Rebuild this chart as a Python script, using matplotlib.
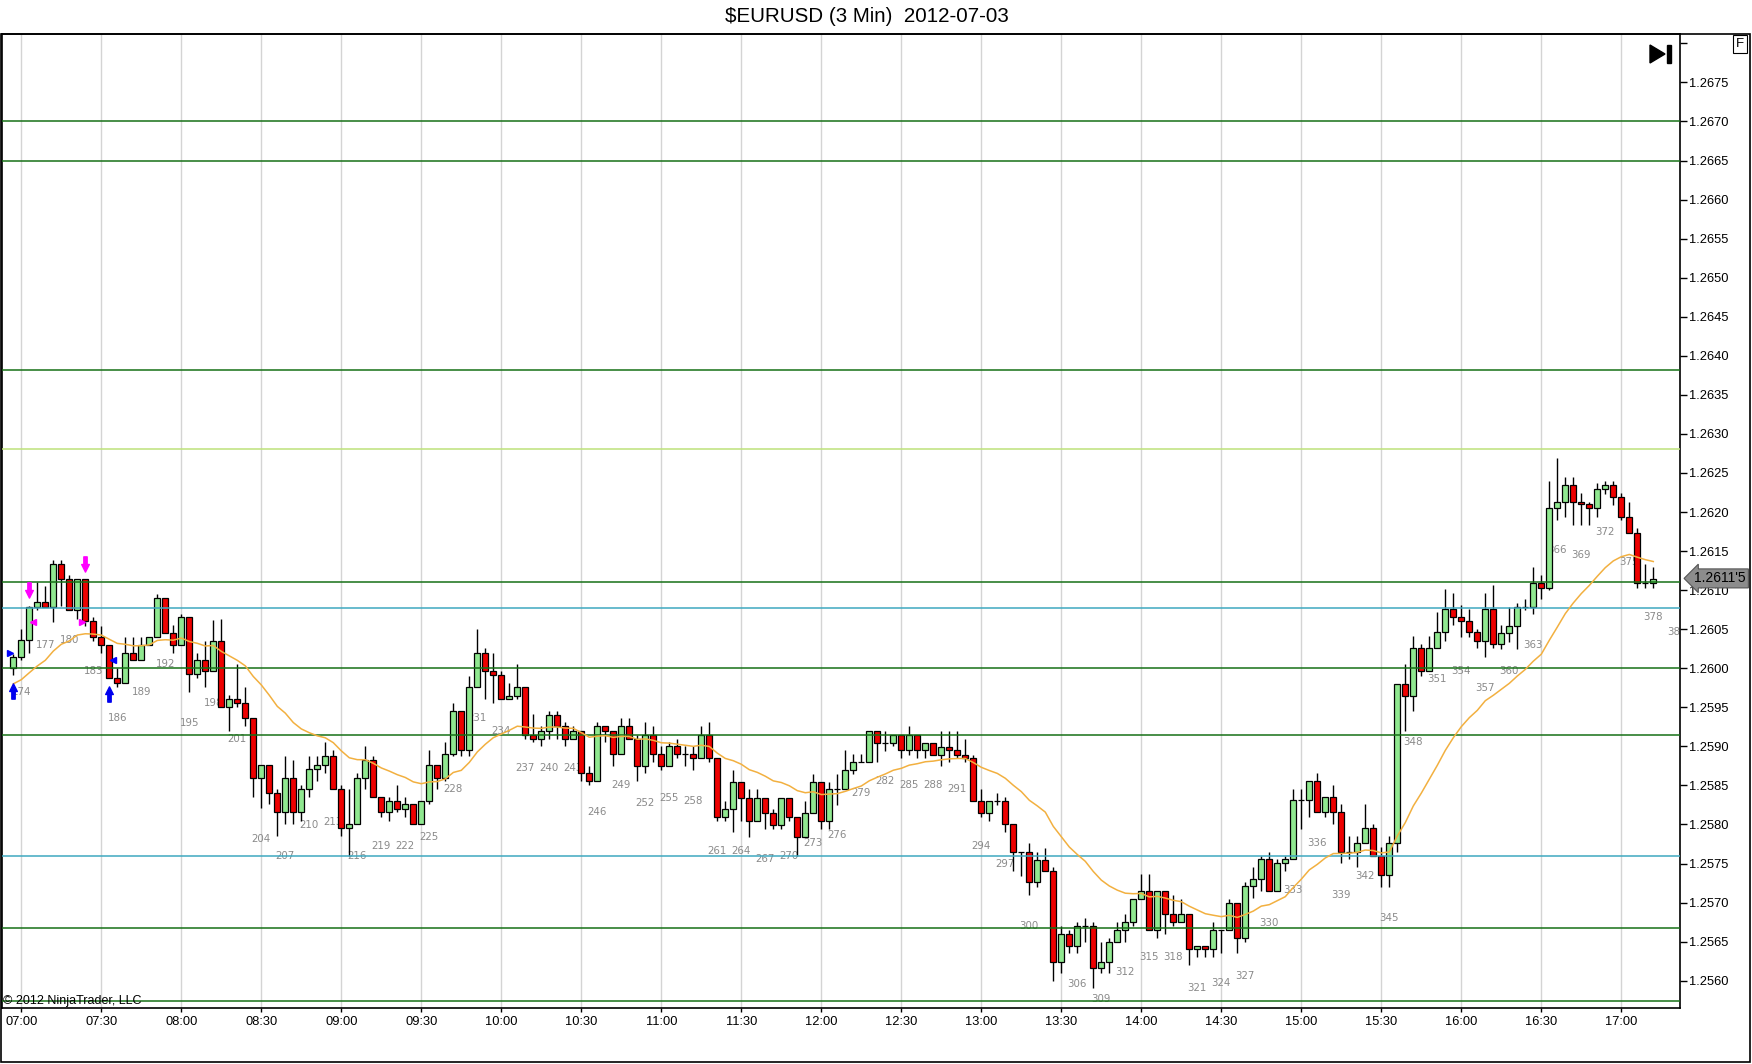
import numpy as np
import matplotlib
matplotlib.use("Agg")
import matplotlib.pyplot as plt
import matplotlib.transforms as mtransforms
from matplotlib.patches import Rectangle, Polygon
from matplotlib.path import Path

# --- DATA (3 min bars, first bar number 174 = 06:57) ---
FIRST_BAR = 174

opens = [
    1.26000, 1.26015, 1.26036, 1.26079, 1.26085, 1.26079, 1.26134, 1.26114, 1.26075, 1.26114,
    1.26060, 1.26040, 1.26030, 1.25987, 1.25981, 1.26020, 1.26010, 1.26030, 1.26040, 1.26090,
    1.26045, 1.26030, 1.26065, 1.25992, 1.26010, 1.25996, 1.26035, 1.25950, 1.25961, 1.25956,
    1.25936, 1.25860, 1.25876, 1.25840, 1.25816, 1.25860, 1.25816, 1.25845, 1.25871, 1.25876,
    1.25887, 1.25845, 1.25795, 1.25801, 1.25860, 1.25882, 1.25835, 1.25816, 1.25830, 1.25820,
    1.25826, 1.25801, 1.25830, 1.25876, 1.25860, 1.25890, 1.25945, 1.25895, 1.25976, 1.26020,
    1.25996, 1.25991, 1.25961, 1.25965, 1.25976, 1.25915, 1.25910, 1.25920, 1.25940, 1.25926,
    1.25910, 1.25920, 1.25866, 1.25855, 1.25926, 1.25920, 1.25890, 1.25926, 1.25910, 1.25875,
    1.25915, 1.25890, 1.25875, 1.25900, 1.25890, 1.25890, 1.25885, 1.25915, 1.25885, 1.25810,
    1.25820, 1.25854, 1.25834, 1.25804, 1.25834, 1.25815, 1.25799, 1.25834, 1.25810, 1.25784,
    1.25815, 1.25854, 1.25804, 1.25845, 1.25845, 1.25870, 1.25880, 1.25880, 1.25919, 1.25904,
    1.25904, 1.25915, 1.25895, 1.25915, 1.25895, 1.25904, 1.25889, 1.25899, 1.25895, 1.25889,
    1.25885, 1.25830, 1.25815, 1.25830, 1.25830, 1.25800, 1.25765, 1.25765, 1.25726, 1.25755,
    1.25740, 1.25624, 1.25660, 1.25645, 1.25670, 1.25670, 1.25616, 1.25624, 1.25650, 1.25665,
    1.25675, 1.25705, 1.25715, 1.25665, 1.25715, 1.25685, 1.25675, 1.25685, 1.25640, 1.25645,
    1.25640, 1.25665, 1.25665, 1.25700, 1.25655, 1.25721, 1.25730, 1.25756, 1.25715, 1.25751,
    1.25756, 1.25831, 1.25831, 1.25855, 1.25816, 1.25835, 1.25816, 1.25765, 1.25765, 1.25776,
    1.25795, 1.25760, 1.25735, 1.25776, 1.25980, 1.25965, 1.26026, 1.25996, 1.26026, 1.26046,
    1.26076, 1.26065, 1.26060, 1.26046, 1.26035, 1.26076, 1.26031, 1.26045, 1.26054, 1.26079,
    1.26079, 1.26109, 1.26103, 1.26205, 1.26213, 1.26234, 1.26213, 1.26210, 1.26205, 1.26229,
    1.26234, 1.26219, 1.26194, 1.26173, 1.26109, 1.26109,
]

highs = [
    1.26018, 1.26050, 1.26080, 1.26110, 1.26105, 1.26139, 1.26139, 1.26119, 1.26114, 1.26114,
    1.26065, 1.26054, 1.26030, 1.26000, 1.26040, 1.26040, 1.26040, 1.26040, 1.26095, 1.26090,
    1.26055, 1.26070, 1.26065, 1.26020, 1.26035, 1.26062, 1.26063, 1.25966, 1.26006, 1.25976,
    1.25936, 1.25876, 1.25876, 1.25846, 1.25887, 1.25882, 1.25850, 1.25888, 1.25888, 1.25905,
    1.25895, 1.25850, 1.25845, 1.25866, 1.25901, 1.25887, 1.25835, 1.25835, 1.25850, 1.25835,
    1.25826, 1.25830, 1.25895, 1.25876, 1.25905, 1.25956, 1.25945, 1.25990, 1.26050, 1.26026,
    1.26020, 1.25996, 1.25981, 1.26006, 1.25976, 1.25941, 1.25926, 1.25945, 1.25945, 1.25931,
    1.25926, 1.25920, 1.25875, 1.25931, 1.25926, 1.25920, 1.25936, 1.25936, 1.25915, 1.25931,
    1.25926, 1.25900, 1.25905, 1.25910, 1.25900, 1.25900, 1.25926, 1.25931, 1.25885, 1.25830,
    1.25870, 1.25854, 1.25845, 1.25845, 1.25834, 1.25820, 1.25834, 1.25834, 1.25810, 1.25830,
    1.25865, 1.25854, 1.25854, 1.25865, 1.25895, 1.25890, 1.25890, 1.25919, 1.25919, 1.25919,
    1.25915, 1.25915, 1.25926, 1.25915, 1.25904, 1.25904, 1.25919, 1.25919, 1.25919, 1.25909,
    1.25889, 1.25845, 1.25830, 1.25840, 1.25835, 1.25800, 1.25765, 1.25776, 1.25765, 1.25770,
    1.25745, 1.25670, 1.25665, 1.25675, 1.25680, 1.25675, 1.25650, 1.25655, 1.25675, 1.25685,
    1.25705, 1.25736, 1.25736, 1.25715, 1.25715, 1.25710, 1.25705, 1.25685, 1.25645, 1.25645,
    1.25675, 1.25665, 1.25705, 1.25700, 1.25726, 1.25745, 1.25760, 1.25765, 1.25756, 1.25760,
    1.25845, 1.25845, 1.25855, 1.25866, 1.25835, 1.25850, 1.25826, 1.25785, 1.25785, 1.25826,
    1.25800, 1.25771, 1.25785, 1.25980, 1.26005, 1.26041, 1.26031, 1.26041, 1.26072, 1.26102,
    1.26096, 1.26081, 1.26076, 1.26050, 1.26096, 1.26106, 1.26055, 1.26079, 1.26084, 1.26089,
    1.26130, 1.26119, 1.26240, 1.26269, 1.26245, 1.26245, 1.26224, 1.26213, 1.26237, 1.26240,
    1.26240, 1.26224, 1.26213, 1.26179, 1.26134, 1.26130,
]

lows = [
    1.25991, 1.26010, 1.26020, 1.26075, 1.26078, 1.26059, 1.26080, 1.26075, 1.26063, 1.26054,
    1.26035, 1.26020, 1.25987, 1.25976, 1.25981, 1.26010, 1.26010, 1.26030, 1.26040, 1.26045,
    1.26020, 1.26030, 1.25970, 1.25987, 1.25976, 1.25996, 1.25950, 1.25920, 1.25950, 1.25926,
    1.25835, 1.25821, 1.25826, 1.25785, 1.25801, 1.25801, 1.25805, 1.25835, 1.25855, 1.25866,
    1.25845, 1.25785, 1.25759, 1.25801, 1.25845, 1.25835, 1.25810, 1.25805, 1.25816, 1.25810,
    1.25801, 1.25801, 1.25826, 1.25845, 1.25855, 1.25887, 1.25887, 1.25888, 1.25976, 1.25960,
    1.25955, 1.25961, 1.25961, 1.25961, 1.25910, 1.25905, 1.25900, 1.25910, 1.25910, 1.25900,
    1.25910, 1.25855, 1.25850, 1.25855, 1.25905, 1.25875, 1.25890, 1.25910, 1.25855, 1.25866,
    1.25880, 1.25870, 1.25875, 1.25885, 1.25875, 1.25870, 1.25885, 1.25880, 1.25805, 1.25804,
    1.25790, 1.25804, 1.25784, 1.25804, 1.25794, 1.25794, 1.25794, 1.25804, 1.25759, 1.25784,
    1.25815, 1.25794, 1.25794, 1.25825, 1.25845, 1.25865, 1.25880, 1.25880, 1.25880, 1.25894,
    1.25900, 1.25885, 1.25889, 1.25885, 1.25885, 1.25889, 1.25875, 1.25880, 1.25885, 1.25880,
    1.25830, 1.25810, 1.25805, 1.25825, 1.25790, 1.25740, 1.25734, 1.25710, 1.25720, 1.25740,
    1.25600, 1.25610, 1.25636, 1.25636, 1.25650, 1.25590, 1.25610, 1.25610, 1.25650, 1.25650,
    1.25670, 1.25705, 1.25665, 1.25655, 1.25660, 1.25670, 1.25675, 1.25620, 1.25630, 1.25630,
    1.25630, 1.25635, 1.25665, 1.25635, 1.25650, 1.25706, 1.25715, 1.25715, 1.25715, 1.25740,
    1.25756, 1.25794, 1.25810, 1.25816, 1.25810, 1.25800, 1.25751, 1.25756, 1.25745, 1.25776,
    1.25760, 1.25720, 1.25720, 1.25765, 1.25920, 1.25945, 1.25990, 1.25996, 1.26026, 1.26035,
    1.26055, 1.26040, 1.26040, 1.26026, 1.26015, 1.26026, 1.26024, 1.26034, 1.26024, 1.26074,
    1.26069, 1.26089, 1.26100, 1.26190, 1.26194, 1.26184, 1.26184, 1.26184, 1.26194, 1.26223,
    1.26209, 1.26190, 1.26173, 1.26103, 1.26103, 1.26103,
]

closes = [
    1.26015, 1.26036, 1.26079, 1.26085, 1.26079, 1.26134, 1.26114, 1.26075, 1.26114, 1.26060,
    1.26040, 1.26030, 1.25987, 1.25981, 1.26020, 1.26010, 1.26030, 1.26040, 1.26090, 1.26045,
    1.26030, 1.26065, 1.25992, 1.26010, 1.25996, 1.26035, 1.25950, 1.25961, 1.25956, 1.25936,
    1.25860, 1.25876, 1.25840, 1.25816, 1.25860, 1.25816, 1.25845, 1.25871, 1.25876, 1.25887,
    1.25845, 1.25795, 1.25801, 1.25860, 1.25882, 1.25835, 1.25816, 1.25830, 1.25820, 1.25826,
    1.25801, 1.25830, 1.25876, 1.25860, 1.25890, 1.25945, 1.25895, 1.25976, 1.26020, 1.25996,
    1.25991, 1.25961, 1.25965, 1.25976, 1.25915, 1.25910, 1.25920, 1.25940, 1.25926, 1.25910,
    1.25920, 1.25866, 1.25855, 1.25926, 1.25920, 1.25890, 1.25926, 1.25910, 1.25875, 1.25915,
    1.25890, 1.25875, 1.25900, 1.25890, 1.25890, 1.25885, 1.25915, 1.25885, 1.25810, 1.25820,
    1.25854, 1.25834, 1.25804, 1.25834, 1.25815, 1.25799, 1.25834, 1.25810, 1.25784, 1.25815,
    1.25854, 1.25804, 1.25845, 1.25845, 1.25870, 1.25880, 1.25880, 1.25919, 1.25904, 1.25904,
    1.25915, 1.25895, 1.25915, 1.25895, 1.25904, 1.25889, 1.25899, 1.25895, 1.25889, 1.25885,
    1.25830, 1.25815, 1.25830, 1.25830, 1.25800, 1.25765, 1.25765, 1.25726, 1.25755, 1.25740,
    1.25624, 1.25660, 1.25645, 1.25670, 1.25670, 1.25616, 1.25624, 1.25650, 1.25665, 1.25675,
    1.25705, 1.25715, 1.25665, 1.25715, 1.25685, 1.25675, 1.25685, 1.25640, 1.25645, 1.25640,
    1.25665, 1.25665, 1.25700, 1.25655, 1.25721, 1.25730, 1.25756, 1.25715, 1.25751, 1.25756,
    1.25831, 1.25831, 1.25855, 1.25816, 1.25835, 1.25816, 1.25765, 1.25765, 1.25776, 1.25795,
    1.25760, 1.25735, 1.25776, 1.25980, 1.25965, 1.26026, 1.25996, 1.26026, 1.26046, 1.26076,
    1.26065, 1.26060, 1.26046, 1.26035, 1.26076, 1.26031, 1.26045, 1.26054, 1.26079, 1.26079,
    1.26109, 1.26103, 1.26205, 1.26213, 1.26234, 1.26213, 1.26210, 1.26205, 1.26229, 1.26234,
    1.26219, 1.26194, 1.26173, 1.26109, 1.26109, 1.26114,
]

# moving average indicator (EMA 20), value carried in from before the first bar
EMA_PERIOD = 20
EMA_SEED = 1.2598

# bar number labels: every 3rd bar, price where the number is printed (None = not shown)
label_step = 3
label_prices = [
    1.25970, 1.26030, 1.26036, 1.25996, 1.25936, 1.25970, 1.26005, 1.25930, 1.25956, 1.25910,
    1.25782, 1.25760, 1.25799, 1.25803, 1.25760, 1.25772, 1.25772, 1.25784, 1.25846, 1.25936,
    1.25920, 1.25872, 1.25872, 1.25872, 1.25816, 1.25850, 1.25827, 1.25834, 1.25830, 1.25766,
    1.25766, 1.25756, 1.25760, 1.25776, 1.25787, 1.25840, 1.25856, 1.25850, 1.25850, 1.25846,
    1.25772, 1.25750, 1.25670, None, 1.25596, 1.25577, 1.25611, 1.25630, 1.25630, 1.25590,
    1.25597, 1.25606, 1.25674, 1.25716, 1.25776, 1.25710, 1.25734, 1.25680, 1.25906, 1.25986,
    1.25996, 1.25975, 1.25996, 1.26030, 1.26151, 1.26145, 1.26175, 1.26136, 1.26065, 1.26046,
]

# drawn horizontal levels
dark_green_levels = [1.2670, 1.2665, 1.26382, 1.2611, 1.2600, 1.25915, 1.25668, 1.25574]
teal_levels = [1.26077, 1.25759]
yellow_green_levels = [1.26281]

# signal arrows and executions
down_arrow_bars = [176, 183]
up_arrow_bars = [174, 186]
exec_bars = [174, 176, 183, 186]
exec_prices = [1.26020, 1.26059, 1.26059, 1.26010]
exec_colors = ["#0000ff", "#ff00ff", "#ff00ff", "#0000ff"]
exec_markers = [">", "<", ">", "<"]

time_labels = ["07:00", "07:30", "08:00", "08:30", "09:00", "09:30", "10:00",
               "10:30", "11:00", "11:30", "12:00", "12:30", "13:00", "13:30",
               "14:00", "14:30", "15:00", "15:30", "16:00", "16:30", "17:00"]
FIRST_TIME_BAR = 175
BARS_PER_LABEL = 10

LAST_PRICE = 1.26115
LAST_PRICE_TEXT = "1.2611'5"

# --- STYLE ---
UP_COLOR = "#90e890"
DOWN_COLOR = "#ee0000"
EMA_COLOR = "#f2b040"
DARK_GREEN = "#167016"
TEAL = "#3ea8c0"
YELLOW_GREEN = "#bde27a"
GRID_COLOR = "#d4d4d4"

W, H = 1752, 1064
plt.rcParams["font.family"] = ["Liberation Sans", "DejaVu Sans"]

fig = plt.figure(figsize=(W / 100, H / 100), dpi=100)
fig.patch.set_facecolor("white")
ax = fig.add_axes([1.5 / W, 1 - 1008 / H, (1680 - 1.5) / W, (1008 - 34) / H])

o = np.array(opens)
c = np.array(closes)
hi = np.maximum(np.array(highs), np.maximum(o, c))
lo = np.minimum(np.array(lows), np.minimum(o, c))
bars = np.arange(FIRST_BAR, FIRST_BAR + len(c))

# 8 px per bar, first bar 11.8 px from left border
ax.set_xlim(FIRST_BAR - 11.8 / 8.0, FIRST_BAR + (1680 - 13.3) / 8.0)
ax.set_ylim(1.25565, 1.26812)

# time axis + vertical grid
tick_pos = FIRST_TIME_BAR + BARS_PER_LABEL * np.arange(len(time_labels))
ax.set_xticks(tick_pos)
ax.set_xticklabels(time_labels)
ax.grid(axis="x", color=GRID_COLOR, lw=1, zorder=0)
ax.set_axisbelow(True)

# price axis on the right
yt = np.round(np.arange(1.2560, 1.26801, 0.0005), 4)
ax.yaxis.tick_right()
ax.set_yticks(yt)
ax.set_yticklabels(["%.4f" % v if v < 1.26775 else "" for v in yt])
ax.tick_params(axis="y", direction="out", length=5, width=1, pad=1.5, labelsize=9.3)
ax.tick_params(axis="x", direction="out", length=3, width=1, pad=3, labelsize=9.3)
for s in ax.spines.values():
    s.set_linewidth(1.2)

# bar numbers (behind the candles)
label_bars = FIRST_BAR + label_step * np.arange(len(label_prices))
for b, p in zip(label_bars, label_prices):
    if p is None:
        continue
    ax.text(b - 0.2, p, str(b), fontsize=7.4, color="#8a8a8a", ha="left",
            va="center", family="DejaVu Sans", zorder=1, clip_on=True)

# candles
up = c >= o
ax.vlines(bars, lo, hi, color="black", lw=1, zorder=2)
body_bottom = np.minimum(o, c)
body_height = np.abs(c - o)
ax.bar(bars, body_height, bottom=body_bottom, width=0.72,
       color=np.where(up, UP_COLOR, DOWN_COLOR), edgecolor="black", lw=0.9, zorder=2.5)

# horizontal levels
for lv in dark_green_levels:
    ax.axhline(lv, color=DARK_GREEN, lw=1.1, zorder=3)
for lv in teal_levels:
    ax.axhline(lv, color=TEAL, lw=1.1, zorder=3)
for lv in yellow_green_levels:
    ax.axhline(lv, color=YELLOW_GREEN, lw=1.1, zorder=3)

# EMA
alpha = 2.0 / (EMA_PERIOD + 1)
ema = [EMA_SEED]
for v in c[1:]:
    ema.append(ema[-1] + alpha * (v - ema[-1]))
ax.plot(bars, ema, color=EMA_COLOR, lw=1.1, zorder=4)

# signal arrows
down_arrow = Path([(-0.22, 1), (0.22, 1), (0.22, 0), (0.5, 0), (0, -1),
                   (-0.5, 0), (-0.22, 0), (-0.22, 1)], closed=True)
up_arrow = Path([(-0.22, -1), (0.22, -1), (0.22, 0), (0.5, 0), (0, 1),
                 (-0.5, 0), (-0.22, 0), (-0.22, -1)], closed=True)
ARROW_GAP = 0.0002
for b in down_arrow_bars:
    i = b - FIRST_BAR
    ax.plot(b, hi[i] + ARROW_GAP, marker=down_arrow, ms=11, color="#ff00ff",
            mec="#ff00ff", zorder=5)
for b in up_arrow_bars:
    i = b - FIRST_BAR
    ax.plot(b, lo[i] - ARROW_GAP, marker=up_arrow, ms=11, color="#0000ee",
            mec="#0000ee", zorder=5)
for b, p, col, m in zip(exec_bars, exec_prices, exec_colors, exec_markers):
    dx = -0.45 if m == ">" else 0.45
    ax.plot(b + dx, p, marker=m, ms=5, color=col, mec=col, zorder=5)

# last price tag on the axis
trans = mtransforms.blended_transform_factory(ax.transAxes, ax.transData)
ax.text(1.0085, LAST_PRICE, LAST_PRICE_TEXT, transform=trans, ha="left", va="center",
        fontsize=10, color="black", zorder=6, clip_on=False,
        bbox=dict(boxstyle="larrow,pad=0.18", fc="#8c8c8c", ec="#555555", lw=0.8))

# frame, title and decorations
fig.add_artist(Rectangle((1 / W, 1 - 1062 / H), (1750 - 1) / W, (1062 - 34) / H,
                         transform=fig.transFigure, fill=False, ec="black", lw=1.2))
fig.text(867 / W, 1 - 16 / H, "$EURUSD (3 Min)  2012-07-03", ha="center", va="center",
         fontsize=14.8, color="black")
fig.text(3 / W, 1 - 1001 / H, "\u00a9 2012 NinjaTrader, LLC", ha="left", va="center",
         fontsize=9, color="black")
fig.text(1740 / W, 1 - 44 / H, "F", ha="center", va="center", fontsize=9.5,
         bbox=dict(boxstyle="square,pad=0.2", fc="white", ec="black", lw=0.8))
fig.add_artist(Polygon([(1650 / W, 1 - 45 / H), (1650 / W, 1 - 63 / H), (1665 / W, 1 - 54 / H)],
                       closed=True, transform=fig.transFigure, fc="black", ec="black"))
fig.add_artist(Rectangle((1667 / W, 1 - 63 / H), 3.5 / W, 18 / H, transform=fig.transFigure,
                         fc="black", ec="black"))

fig.savefig("out.png", dpi=100, facecolor="white")
